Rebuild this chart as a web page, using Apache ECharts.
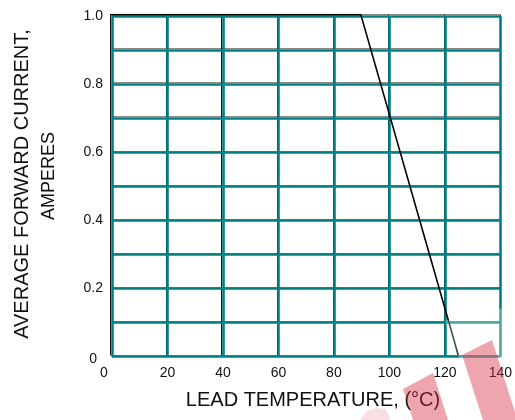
<!DOCTYPE html>
<html><head><meta charset="utf-8">
<script src="https://cdn.jsdelivr.net/npm/echarts@6/dist/echarts.min.js"></script>
<style>html,body{margin:0;padding:0;background:#fff}#c{width:515px;height:420px}</style>
</head><body><div id="c"></div>
<script>
// ---- data ----
const xTicks = [0, 20, 40, 60, 80, 100, 120, 140];
const yTicks = [0, 0.2, 0.4, 0.6, 0.8, 1.0];
const curveTemp = [0, 90, 125];
const curveCurrent = [1.0, 1.0, 0];
const xTitle = 'LEAD TEMPERATURE, (°C)';
const yTitle1 = 'AVERAGE FORWARD CURRENT,';
const yTitle2 = 'AMPERES';

// ---- layout ----
const FONT = 'Liberation Sans, Arial, Helvetica, sans-serif';
const G = {left: 112, top: 16.3, width: 389.7, height: 340.4};
const off = 1.7;
const TEAL = '#008080';

function yFmt(v) {
  const k = Math.round(v * 10);
  if (k % 2 !== 0) return '';
  const t = yTicks.find(t => Math.round(t * 10) === k);
  if (t === undefined) return '';
  if (t === 0) return '{z|0}';
  return t.toFixed(1);
}
function xFmt(v) {
  if (xTicks.indexOf(v) < 0) return '';
  return v === 0 ? '{z|0}' : String(v);
}

const chart = echarts.init(document.getElementById('c'), null, {renderer: 'canvas'});
const option = {
  backgroundColor: '#fff',
  animation: false,
  grid: [
    {left: G.left, top: G.top, width: G.width, height: G.height, containLabel: false},
    {left: G.left - off, top: G.top - off, width: G.width, height: G.height, containLabel: false}
  ],
  xAxis: [
    {type: 'value', gridIndex: 0, min: 0, max: 140, interval: 20, z: 3,
     axisLine: {show: false}, axisTick: {show: false},
     splitLine: {show: true, lineStyle: {color: TEAL, width: 2.6}},
     axisLabel: {color: '#111', fontSize: 14, fontFamily: FONT, margin: 9, formatter: xFmt,
       rich: {z: {fontSize: 14, fontFamily: FONT, color: '#111', padding: [0, 16, 0, 0]}}}},
    {type: 'value', gridIndex: 1, min: 0, max: 140, interval: 20, z: 1,
     axisLine: {show: false}, axisTick: {show: false}, axisLabel: {show: false},
     splitLine: {show: true, lineStyle: {color: '#111', width: 1}}}
  ],
  yAxis: [
    {type: 'value', gridIndex: 0, min: 0, max: 1, interval: 0.1, z: 3,
     axisLine: {show: false}, axisTick: {show: false},
     splitLine: {show: true, lineStyle: {color: TEAL, width: 2.6}},
     axisLabel: {color: '#111', fontSize: 14, fontFamily: FONT, margin: 9, formatter: yFmt,
       rich: {z: {fontSize: 14, fontFamily: FONT, color: '#111', padding: [4, 6, 0, 0]}}}},
    {type: 'value', gridIndex: 1, min: 0, max: 1, interval: 0.1, z: 1,
     axisLine: {show: false}, axisTick: {show: false}, axisLabel: {show: false},
     splitLine: {show: true, lineStyle: {color: '#8a8a8a', width: 1}}}
  ],
  series: [{
    type: 'line', xAxisIndex: 1, yAxisIndex: 1, z: 10,
    data: curveTemp.map((t, i) => [t, curveCurrent[i]]),
    symbol: 'none', lineStyle: {color: '#000', width: 1.6}
  }],
  graphic: [
    {type: 'text', x: 313, y: 400, z: 5,
     style: {text: xTitle, fontSize: 20, fontFamily: FONT, fill: '#111', textAlign: 'center', textVerticalAlign: 'middle'}},
    {type: 'text', x: 22, y: 184, rotation: Math.PI / 2, z: 5,
     style: {text: yTitle1, fontSize: 20, fontFamily: FONT, fill: '#111', textAlign: 'center', textVerticalAlign: 'middle'}},
    {type: 'text', x: 49, y: 176, rotation: Math.PI / 2, z: 5,
     style: {text: yTitle2, fontSize: 18, fontFamily: FONT, fill: '#111', textAlign: 'center', textVerticalAlign: 'middle'}},
    // watermark
    {type: 'polygon', z: 20, shape: {points: [[445, 321], [503, 308], [515, 308], [515, 360], [460, 360]]},
     style: {fill: 'rgba(255,255,255,0.3)'}},
    {type: 'polygon', z: 21, shape: {points: [[403, 389], [433, 373], [448, 420], [413, 420]]},
     style: {fill: 'rgba(214,40,60,0.42)'}},
    {type: 'polygon', z: 21, shape: {points: [[462, 355], [492, 340], [515, 412], [515, 420], [483, 420]]},
     style: {fill: 'rgba(214,40,60,0.42)'}},
    {type: 'polygon', z: 21, shape: {points: [[360, 420], [366, 412], [376, 408], [386, 409], [390, 420]]},
     style: {fill: 'rgba(214,40,60,0.15)'}}
  ]
};
chart.setOption(option);
</script></body></html>
